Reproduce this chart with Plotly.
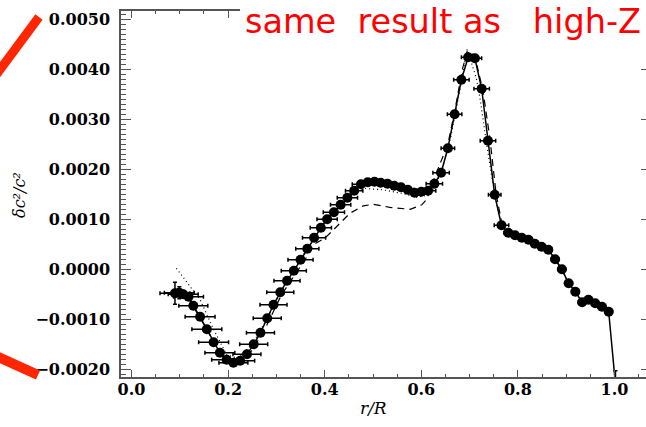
import plotly.graph_objects as go

# ---------------- data ----------------
r_data = [0.090, 0.099, 0.107, 0.118,
          0.128, 0.142, 0.156, 0.170, 0.183, 0.197, 0.211, 0.225, 0.239, 0.253,
          0.267, 0.281, 0.294, 0.308, 0.322, 0.336, 0.350, 0.364, 0.378, 0.392,
          0.405, 0.419, 0.433, 0.447, 0.461, 0.475, 0.489, 0.503, 0.516, 0.530,
          0.544, 0.558, 0.572, 0.586, 0.600, 0.614, 0.627, 0.641, 0.655, 0.669,
          0.683, 0.697, 0.711, 0.725, 0.738, 0.752, 0.766, 0.780, 0.794, 0.808,
          0.822, 0.835, 0.849, 0.863, 0.877, 0.891, 0.905, 0.919, 0.933, 0.946,
          0.960, 0.974, 0.988, 1.002]
dc_data = [-0.00048, -0.00047, -0.00050, -0.00055,
           -0.00073, -0.00095, -0.00120, -0.00146, -0.00167, -0.00181, -0.00187, -0.00183, -0.00170, -0.00150,
           -0.00127, -0.00098, -0.00071, -0.00046, -0.00023, -0.00003, 0.00019, 0.00041, 0.00063, 0.00083,
           0.00100, 0.00114, 0.00129, 0.00143, 0.00157, 0.00170, 0.00174, 0.00175, 0.00173, 0.00171,
           0.00167, 0.00164, 0.00159, 0.00153, 0.00155, 0.00157, 0.00171, 0.00193, 0.00242, 0.00310,
           0.00379, 0.00424, 0.00422, 0.00361, 0.00257, 0.00149, 0.00088, 0.00073, 0.00068, 0.00063,
           0.00059, 0.00051, 0.00045, 0.00039, 0.00020, 0.00000, -0.00028, -0.00045, -0.00066, -0.00061,
           -0.00068, -0.00075, -0.00085, -0.00230]
r_err = [0.031, 0.031, 0.031, 0.031,
         0.030, 0.031, 0.031, 0.031, 0.031, 0.031, 0.030, 0.030, 0.029, 0.029,
         0.029, 0.029, 0.028, 0.028, 0.027, 0.026, 0.026, 0.024, 0.024, 0.022,
         0.021, 0.022, 0.021, 0.021, 0.018, 0.018, 0.012, 0.012, 0.012, 0.012,
         0.012, 0.012, 0.012, 0.012, 0.012, 0.016, 0.017, 0.017, 0.014, 0.015,
         0.016, 0.014, 0.014, 0.016, 0.016, 0.013, 0.015, 0.009, 0.008, 0.008,
         0.008, 0.008, 0.008, 0.008, 0.008, 0.008, 0.008, 0.008, 0.008, 0.008,
         0.008, 0.008, 0.008, 0.0]
dc_err = [0.00022, 0.00012, 0.00005, 0.00005] + [0.00005] * 63 + [0.00027]

# model curves (dashed and dotted); beyond r=0.78 they coincide with the data
r_dash = [0.118, 0.15, 0.18, 0.20, 0.22, 0.25, 0.28, 0.31, 0.34, 0.363, 0.376, 0.40,
          0.414, 0.432, 0.452, 0.480, 0.501, 0.535, 0.577, 0.601, 0.611, 0.630, 0.655,
          0.670, 0.685, 0.695, 0.705, 0.716, 0.728, 0.742, 0.755, 0.768]
dc_dash = [-0.00058, -0.00112, -0.00160, -0.00182, -0.00188, -0.00162, -0.00112, -0.00052,
           -0.00008, 0.00025, 0.00049, 0.00062, 0.00075, 0.00092, 0.00112, 0.00127, 0.00130,
           0.00124, 0.00120, 0.00129, 0.00140, 0.00190, 0.00250, 0.00320, 0.00400, 0.00436,
           0.00432, 0.00405, 0.00355, 0.00262, 0.00150, 0.00086]
r_dot = [0.093, 0.110, 0.125, 0.142, 0.169, 0.197, 0.220, 0.250, 0.280, 0.310, 0.350,
         0.400, 0.450, 0.480, 0.520, 0.560, 0.590, 0.618, 0.640, 0.660, 0.680, 0.695,
         0.714, 0.722, 0.732, 0.745, 0.760, 0.772]
dc_dot = [0.00002, -0.00020, -0.00038, -0.00061, -0.00118, -0.00171, -0.00178, -0.00150,
          -0.00100, -0.00045, 0.00020, 0.00095, 0.00145, 0.00162, 0.00159, 0.00152, 0.00144,
          0.00149, 0.00190, 0.00260, 0.00360, 0.00440, 0.00382, 0.00339, 0.00272, 0.00190,
          0.00110, 0.00078]

tail_start = 51  # index of r=0.780 in the data
r_dash_full = r_dash + r_data[tail_start:-1]
dc_dash_full = dc_dash + dc_data[tail_start:-1]
r_dot_full = r_dot + r_data[tail_start:-1]
dc_dot_full = dc_dot + dc_data[tail_start:-1]

# ---------------- figure geometry ----------------
W, H = 646, 427
ML, MR, MT, MB = 121, 0, 11, 50
PW, PH = W - ML - MR, H - MT - MB


def px_x(px):
    return (px - ML) / PW


def px_y(py):
    return (H - MB - py) / PH


X_RANGE = [-0.02174, 1.06522]
Y_RANGE = [-0.002154, 0.005166]

serif = "DejaVu Serif"
tick_font = dict(family=serif, size=16, color="black", weight="bold")

fig = go.Figure()
fig.add_trace(go.Scatter(x=r_dot_full, y=dc_dot_full, mode="lines",
                         line=dict(color="black", width=1.2, dash="1px,3px"),
                         hoverinfo="skip", showlegend=False))
fig.add_trace(go.Scatter(x=r_dash_full, y=dc_dash_full, mode="lines",
                         line=dict(color="black", width=1.2, dash="7px,5px"),
                         hoverinfo="skip", showlegend=False))
fig.add_trace(go.Scatter(x=r_data, y=dc_data, mode="lines+markers",
                         line=dict(color="black", width=1.5),
                         marker=dict(color="black", size=10, line=dict(width=0)),
                         error_x=dict(type="data", array=r_err, color="black",
                                      thickness=1.5, width=2),
                         error_y=dict(type="data", array=dc_err, color="black",
                                      thickness=1.5, width=2),
                         showlegend=False))
# invisible trace for the right-hand tick axis
fig.add_trace(go.Scatter(x=[], y=[], yaxis="y2", showlegend=False, hoverinfo="skip"))

axis_col = "#555555"
fig.update_layout(
    width=W, height=H,
    margin=dict(l=ML, r=MR, t=MT, b=MB, pad=0),
    paper_bgcolor="white", plot_bgcolor="white",
    xaxis=dict(range=X_RANGE, showgrid=False, zeroline=False,
               showline=True, linecolor=axis_col, linewidth=1.5, mirror="ticks",
               ticks="inside", ticklen=7, tickwidth=1.2, tickcolor=axis_col,
               tick0=0, dtick=0.2, tickformat=".1f",
               tickfont=tick_font, ticklabelstandoff=-3,
               minor=dict(ticks="inside", ticklen=3.5, dtick=0.05, tick0=0,
                          tickcolor=axis_col, tickwidth=1.2, showgrid=False)),
    yaxis=dict(range=Y_RANGE, showgrid=False, zeroline=False,
               showline=True, linecolor=axis_col, linewidth=1.5, mirror=False,
               ticks="inside", ticklen=10, tickwidth=1.2, tickcolor=axis_col,
               tick0=0, dtick=0.001, tickformat=".4f",
               tickfont=tick_font, ticklabelstandoff=6,
               minor=dict(ticks="inside", ticklen=5, dtick=0.0001, tick0=0,
                          tickcolor=axis_col, tickwidth=1.2, showgrid=False)),
    yaxis2=dict(range=Y_RANGE, overlaying="y", side="right", showgrid=False,
                zeroline=False, showline=False, showticklabels=False,
                ticks="inside", ticklen=5, tickwidth=1.2, tickcolor=axis_col,
                tick0=0, dtick=0.001),
)

# axis titles
fig.add_annotation(text="r/R", xref="paper", yref="paper",
                   x=px_x(373), y=px_y(408), xanchor="center", yanchor="middle",
                   showarrow=False,
                   font=dict(family=serif, size=17, color="black", style="italic"))
fig.add_annotation(text="δc²/c²", xref="paper", yref="paper",
                   x=px_x(19), y=px_y(195), xanchor="center", yanchor="middle",
                   textangle=-90, showarrow=False,
                   font=dict(family=serif, size=16, color="black", style="italic"))

# slide overlay: white box with red caption, red arrow strokes
fig.add_shape(type="rect", xref="paper", yref="paper",
              x0=px_x(240), x1=px_x(W + 2), y0=px_y(42), y1=px_y(-2),
              fillcolor="white", line=dict(width=0), layer="above")
fig.add_annotation(text="same\u00a0 result as\u00a0\u00a0 high-Z", xref="paper", yref="paper",
                   x=px_x(243), y=px_y(0), xanchor="left", yanchor="top",
                   showarrow=False,
                   font=dict(family="DejaVu Sans", size=33.5, color="#ff0000"))
red = "#ff2600"
fig.add_shape(type="line", xref="paper", yref="paper",
              x0=px_x(-4), y0=px_y(75), x1=px_x(39), y1=px_y(17),
              line=dict(color=red, width=9), layer="above")
fig.add_shape(type="line", xref="paper", yref="paper",
              x0=px_x(-4), y0=px_y(356), x1=px_x(38), y1=px_y(375),
              line=dict(color=red, width=10), layer="above")

fig.write_html("out.html")
